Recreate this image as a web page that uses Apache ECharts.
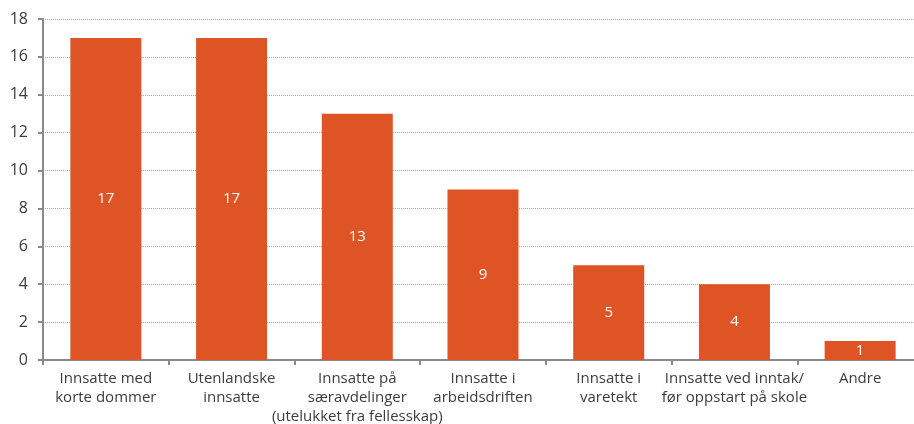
<!DOCTYPE html>
<html>
<head>
<meta charset="utf-8">
<style>
  html, body { margin: 0; padding: 0; background: #ffffff; }
  #chart { width: 914px; height: 424px; }
</style>
<script src="https://cdn.jsdelivr.net/npm/echarts@6/dist/echarts.min.js"></script>
</head>
<body>
<div id="chart"></div>
<script>
// Antall per gruppe innsatte
const categories = [
  'Innsatte med\nkorte dommer',
  'Utenlandske\ninnsatte',
  'Innsatte på\nsæravdelinger\n(utelukket fra fellesskap)',
  'Innsatte i\narbeidsdriften',
  'Innsatte i\nvaretekt',
  'Innsatte ved inntak/\nfør oppstart på skole',
  'Andre'
];
const values = [17, 17, 13, 9, 5, 4, 1];
const yTicks = { min: 0, max: 18, interval: 2 };

const chart = echarts.init(document.getElementById('chart'), null, { renderer: 'canvas' });

const textFont = '"Open Sans", "Noto Sans", sans-serif';

chart.setOption({
  animation: false,
  backgroundColor: '#ffffff',
  grid: {
    left: 43, top: 19, width: 880, height: 341,
    containLabel: false,
    outerBoundsMode: 'none'
  },
  xAxis: {
    type: 'category',
    data: categories,
    axisLine: { show: true, lineStyle: { color: '#8a8a8a', width: 2 } },
    axisTick: { show: true, alignWithLabel: false, length: 5, lineStyle: { color: '#8a8a8a', width: 2 } },
    axisLabel: {
      color: '#3c3c3c',
      fontSize: 15,
      fontFamily: textFont,
      lineHeight: 19,
      margin: 9,
      interval: 0
    },
    splitLine: { show: false }
  },
  yAxis: {
    type: 'value',
    min: yTicks.min,
    max: yTicks.max,
    interval: yTicks.interval,
    axisLine: { show: true, lineStyle: { color: '#8a8a8a', width: 2 } },
    axisTick: { show: true, length: 5, lineStyle: { color: '#8a8a8a', width: 2 } },
    axisLabel: { color: '#3c3c3c', fontSize: 16, fontFamily: textFont, margin: 15 },
    splitLine: { show: true, lineStyle: { color: '#a8a8a8', type: [1, 1], width: 1 } }
  },
  series: [{
    type: 'bar',
    data: values,
    barWidth: 71,
    itemStyle: { color: '#DF5424' },
    label: {
      show: true,
      position: 'inside',
      color: '#ffffff',
      fontSize: 15,
      fontFamily: textFont
    }
  }]
});
</script>
</body>
</html>
